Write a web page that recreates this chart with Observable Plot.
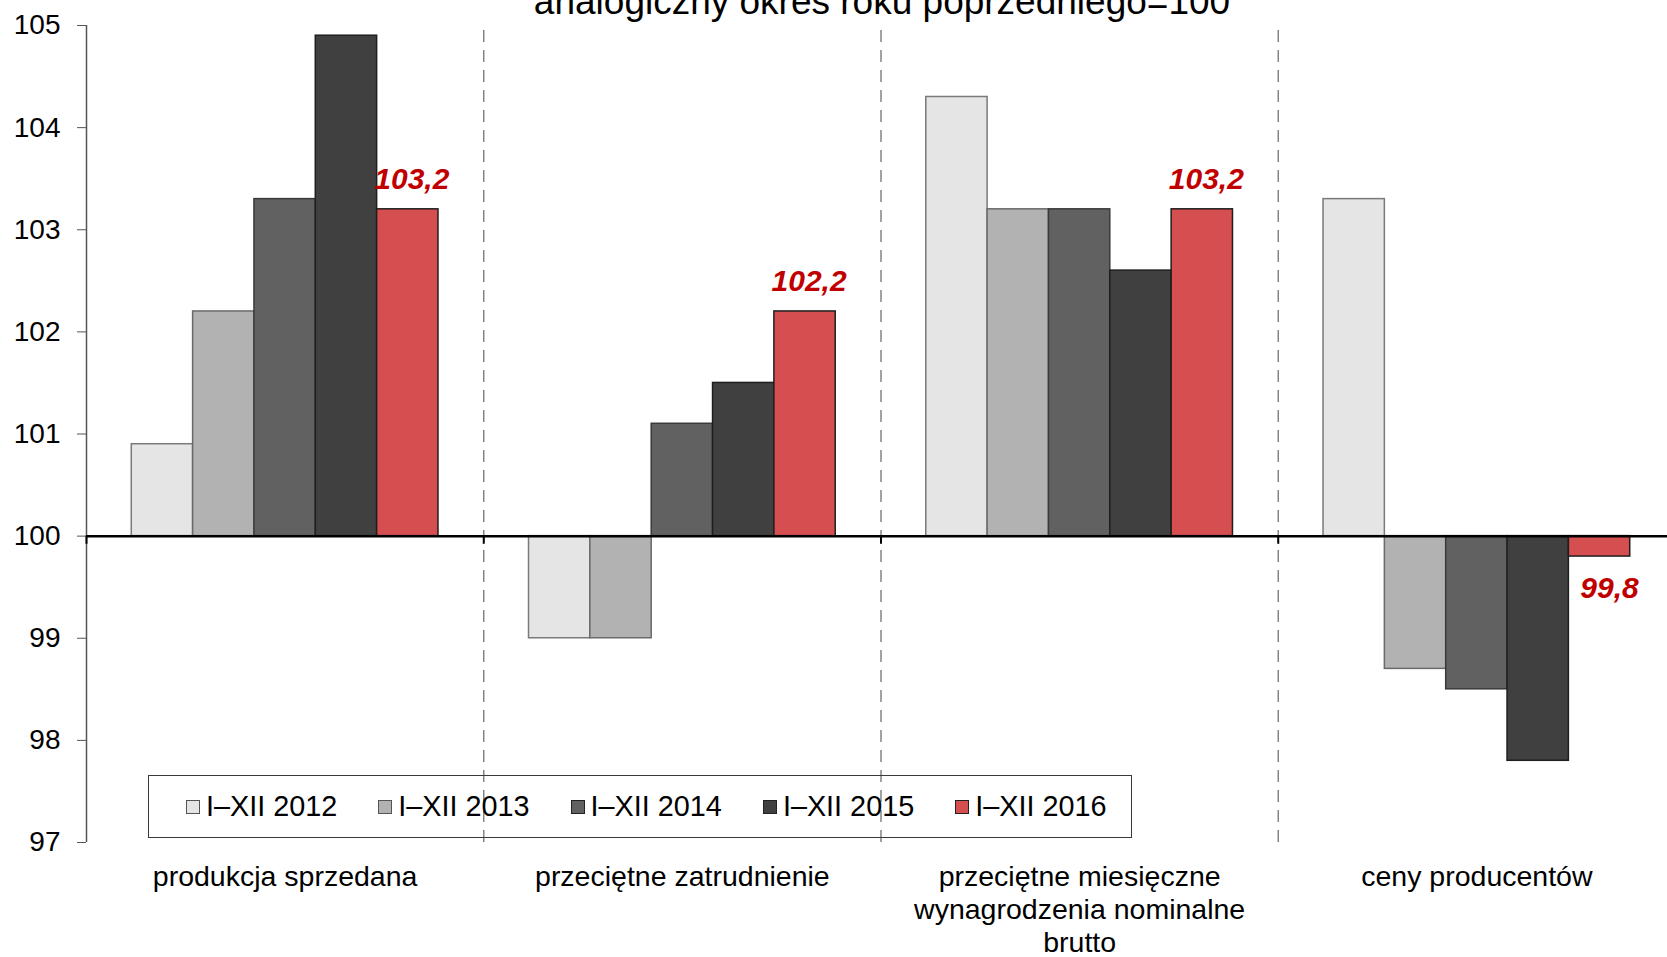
<!DOCTYPE html>
<html>
<head>
<meta charset="utf-8">
<script src="https://cdn.jsdelivr.net/npm/d3@7"></script>
<script src="https://cdn.jsdelivr.net/npm/@observablehq/plot@0.6"></script>
<style>
  html, body { margin: 0; padding: 0; background: #fff; }
  #wrap { position: relative; width: 1667px; height: 957px; overflow: hidden; font-family: "Liberation Sans", Arial, sans-serif; }
  #title { position: absolute; left: 882px; top: -17px; transform: translateX(-50%); white-space: nowrap; font-size: 37px; line-height: 37px; color: #000; }
  #legend { position: absolute; left: 148px; top: 775px; width: 984px; height: 63px; box-sizing: border-box; border: 1.3px solid #3a3a3a; display: flex; align-items: center; padding-left: 37px; font-size: 28.8px; color: #000; }
  #legend .item { display: flex; align-items: center; margin-right: 41px; white-space: nowrap; }
  #legend .sw { width: 14px; height: 14px; box-sizing: border-box; border: 1px solid #333; margin-right: 6px; }
  #chart svg { display: block; }
</style>
</head>
<body>
<div id="wrap">
  <div id="chart"></div>
  <div id="title">analogiczny okres roku poprzedniego=100</div>
  <div id="legend"></div>
</div>
<script>
// ---- data ----
const categories = ["produkcja sprzedana", "przeciętne zatrudnienie", "przeciętne miesięczne wynagrodzenia nominalne brutto", "ceny producentów"];
const categoryLabels = ["produkcja sprzedana", "przeciętne zatrudnienie", "przeciętne miesięczne\nwynagrodzenia nominalne\nbrutto", "ceny producentów"];
const years = ["I–XII 2012", "I–XII 2013", "I–XII 2014", "I–XII 2015", "I–XII 2016"];
const values2012 = [100.9, 99.0, 104.3, 103.3];
const values2013 = [102.2, 99.0, 103.2, 98.7];
const values2014 = [103.3, 101.1, 103.2, 98.5];
const values2015 = [104.9, 101.5, 102.6, 97.8];
const values2016 = [103.2, 102.2, 103.2, 99.8];
const yTicks = [97, 98, 99, 100, 101, 102, 103, 104, 105];
const baseline = 100;

// ---- styles ----
const fills = ["#e5e5e5", "#b2b2b2", "#616161", "#404040", "#d64f50"];
const strokes = ["#7a7a7a", "#6a6a6a", "#3a3a3a", "#1e1e1e", "#1e1e1e"];
const series = [values2012, values2013, values2014, values2015, values2016];

const rows = categories.flatMap((c, i) => years.map((y, j) => ({cat: c, ci: i, yi: j, year: y, value: series[j][i]})));
const pad = 0.738;
const w = 1 / (years.length + 2 * pad);
const bx1 = d => d.ci + (pad + d.yi) * w;
const bx2 = d => d.ci + (pad + d.yi + 1) * w;
const bxc = d => d.ci + (pad + d.yi + 0.5) * w;
const fmt = v => d3.format(".1f")(v).replace(".", ",");
const last = rows.filter(d => d.yi === years.length - 1);
const catIdx = categories.map((c, i) => i);
const font = '"Liberation Sans", Arial, sans-serif';

const chart = Plot.plot({
  width: 1667,
  height: 957,
  marginLeft: 86,
  marginRight: -8,
  marginTop: 25,
  marginBottom: 115,
  style: {fontFamily: font, background: "white", overflow: "visible"},
  x: {domain: [0, categories.length], axis: null},
  y: {domain: [97, 105], axis: null},
  color: {type: "identity"},
  marks: [
    Plot.ruleX(d3.range(1, categories.length), {x: d => d, y1: 97, y2: 105, stroke: "#858585", strokeWidth: 1.5, strokeDasharray: "12,8"}),
    Plot.rectY(rows, {x1: bx1, x2: bx2, y1: () => baseline, y2: "value", fill: d => fills[d.yi], stroke: d => strokes[d.yi], strokeWidth: 1.5}),
    Plot.ruleX([0], {y1: 97, y2: 105, stroke: "#555", strokeWidth: 1.5}),
    Plot.axisY({ticks: yTicks, anchor: "left", label: null, tickSize: 9, tickPadding: 17, fontSize: 28, stroke: "#555", fill: "#000", tickFormat: d => String(d)}),
    Plot.ruleY([baseline], {stroke: "#000", strokeWidth: 2.5}),
    Plot.ruleX(d3.range(0, categories.length + 1), {x: d => d, y1: baseline, y2: baseline - 0.08, stroke: "#000", strokeWidth: 2}),
    Plot.text(last.filter(d => d.value >= baseline), {x: bxc, y: "value", text: d => fmt(d.value), fill: "#c00000", fontSize: 30, fontWeight: "bold", fontStyle: "italic", textAnchor: "middle", lineAnchor: "bottom", dy: -20, dx: 4}),
    Plot.text(last.filter(d => d.value < baseline), {x: bxc, y: "value", text: d => fmt(d.value), fill: "#c00000", fontSize: 30, fontWeight: "bold", fontStyle: "italic", textAnchor: "middle", lineAnchor: "top", dy: 20, dx: 10}),
    Plot.text(catIdx, {x: i => i + 0.5, y: () => 97, text: i => categoryLabels[i], fill: "#000", fontSize: 28.5, textAnchor: "middle", lineAnchor: "top", lineHeight: 1.16, dy: 20})
  ]
});
document.getElementById("chart").appendChild(chart);

// legend
const legend = document.getElementById("legend");
years.forEach((y, j) => {
  const it = document.createElement("div");
  it.className = "item";
  const sw = document.createElement("div");
  sw.className = "sw";
  sw.style.background = fills[j];
  sw.style.borderColor = j < 2 ? "#555" : "#222";
  const tx = document.createElement("span");
  tx.textContent = y;
  it.appendChild(sw);
  it.appendChild(tx);
  legend.appendChild(it);
});
</script>
</body>
</html>
